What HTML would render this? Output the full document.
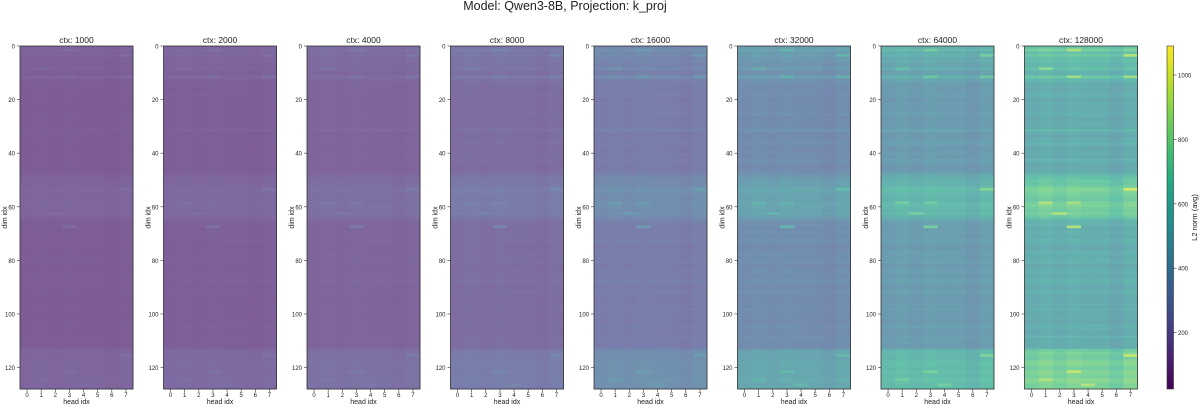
<!DOCTYPE html>
<html><head><meta charset="utf-8"><style>
body{margin:0;background:#fff;width:1200px;height:405px;overflow:hidden;font-family:"Liberation Sans",sans-serif}
svg text{font-family:"Liberation Sans",sans-serif;fill:#222}
</style></head><body>
<svg id="fig" width="1200" height="405" xmlns="http://www.w3.org/2000/svg">
<text x="565" y="10" font-size="12.5" text-anchor="middle">Model: Qwen3-8B, Projection: k_proj</text>
</svg>
<script>
const ctxLabels=["1000","2000","4000","8000","16000","32000","64000","128000"];
const ctxMean=[100,115,140,185,270,370,470,580];
const headLabels=[0,1,2,3,4,5,6,7];
const colFactor=[1.0,1.05,1.0,1.05,1.02,1.02,0.95,1.05];
const rowProfile=[720,820,700,760,680,700,650,640,720,620,600,760,650,
600,560,580,550,570,600,560,540,580,560,570,550,600,560,540,560,580,550,650,560,540,570,560,620,550,540,560,570,540,620,560,550,540,560,600,
700,720,760,740,800,850,820,800,780,760,820,840,800,780,820,760,700,
600,620,580,560,600,580,560,620,580,560,540,580,600,560,580,620,560,540,580,600,570,560,620,580,560,540,600,580,560,540,560,580,540,600,560,550,580,560,540,600,580,560,540,620,560,580,560,570,
760,820,800,780,840,860,820,800,860,840,820,880,860,820,840];
const hotRows=[1,3,11,8,53,58,58,62,67,115,124,121,126,11];
const hotCols=[3,7,7,1,7,1,3,2,3,7,1,3,4,3];
const hotVals=[1000,1000,950,900,1080,1000,980,1000,1000,1050,1000,1050,1000,950];
const cbTicks=[200,400,600,800,1000];
const vmin=25,vmax=1090;
const V=[[68,1,84],[72,36,117],[65,68,135],[53,95,141],[42,120,142],[33,145,140],[34,168,132],[68,191,112],[122,209,81],[189,223,38],[253,231,37]];
function vir(t){if(!isFinite(t))t=0;t=Math.max(0,Math.min(1,t));const p=t*10,i=Math.min(9,Math.floor(p)),f=p-i;return V[i].map((c,j)=>Math.round(c+(V[i+1][j]-c)*f));}
const NS="http://www.w3.org/2000/svg",svg=document.getElementById('fig');
function mk(tag,at,parent){const e=document.createElementNS(NS,tag);for(const k in at)e.setAttribute(k,at[k]);(parent||svg).appendChild(e);return e;}
const topY=46,H=343,W=113;
function yOf(r){return topY+r*H/128;}
function cellVal(k,r,c){let base=(rowProfile[r]||580)*colFactor[c];for(let h=0;h<hotRows.length;h++)if(hotRows[h]===r&&hotCols[h]===c)base=hotVals[h];return ctxMean[k]*base/640;}
ctxLabels.forEach((lab,k)=>{
  const x0=20+k*143.5;
  const g=mk('g',{});
  
  
  const t=mk('text',{x:x0+W/2,y:43,'font-size':8.5,'text-anchor':'middle'},g);t.textContent='ctx: '+lab;
  
  
  for(let r=0;r<128;r++)for(let c=0;c<8;c++){
    const v=cellVal(k,r,c),col=vir((v-vmin)/(vmax-vmin)).map(x=>Math.round(x*0.7+255*0.3));
    const e=mk('rect',{x:x0+c*W/8,y:yOf(r),width:W/8+0.4,height:H/128+0.4,fill:`rgb(${col})`},g);
    
    
  }
  mk('rect',{x:x0,y:topY,width:W,height:H,fill:'none',stroke:'#333','stroke-width':0.8},g);
  for(let r=0;r<=120;r+=20){mk('line',{x1:x0-3,x2:x0,y1:yOf(r),y2:yOf(r),stroke:'#333','stroke-width':0.6},g);
    const tt=mk('text',{x:x0-5,y:yOf(r)+2.5,'font-size':6,'text-anchor':'end'},g);tt.textContent=r;
    
    }
  headLabels.forEach((h,c)=>{const cx=x0+(c+0.5)*W/8;mk('line',{x1:cx,x2:cx,y1:topY+H,y2:topY+H+3,stroke:'#333','stroke-width':0.6},g);
    const tt=mk('text',{x:cx,y:397,'font-size':6,'text-anchor':'middle'},g);tt.textContent=h;
    
    });
  const xl=mk('text',{x:x0+W/2,y:404,'font-size':7,'text-anchor':'middle'},g);xl.textContent='head idx';
  
  
  const yl=mk('text',{x:0,y:0,'font-size':7,'text-anchor':'middle',transform:`translate(${x0-13},${topY+H/2}) rotate(-90)`},g);yl.textContent='dim idx';
  
  
});
const cb=mk('g',{});


const defs=mk('defs',{},cb);const lg=mk('linearGradient',{id:'vg',x1:0,y1:1,x2:0,y2:0},defs);
V.forEach((c,i)=>mk('stop',{offset:i/10,'stop-color':`rgb(${c})`},lg));
mk('rect',{x:1167,y:topY,width:6.5,height:H,fill:'url(#vg)',stroke:'#333','stroke-width':0.6},cb);
cbTicks.forEach(v=>{const y=topY+H-(v-vmin)/(vmax-vmin)*H;mk('line',{x1:1173.5,x2:1176.5,y1:y,y2:y,stroke:'#333','stroke-width':0.6},cb);
  const tt=mk('text',{x:1178,y:y+2.5,'font-size':6},cb);tt.textContent=v;
  
  });
const cl=mk('text',{x:0,y:0,'font-size':7.5,'text-anchor':'middle',transform:`translate(1197,${topY+H/2}) rotate(-90)`},cb);cl.textContent='L2 norm (avg)';


</script>
</body></html>
